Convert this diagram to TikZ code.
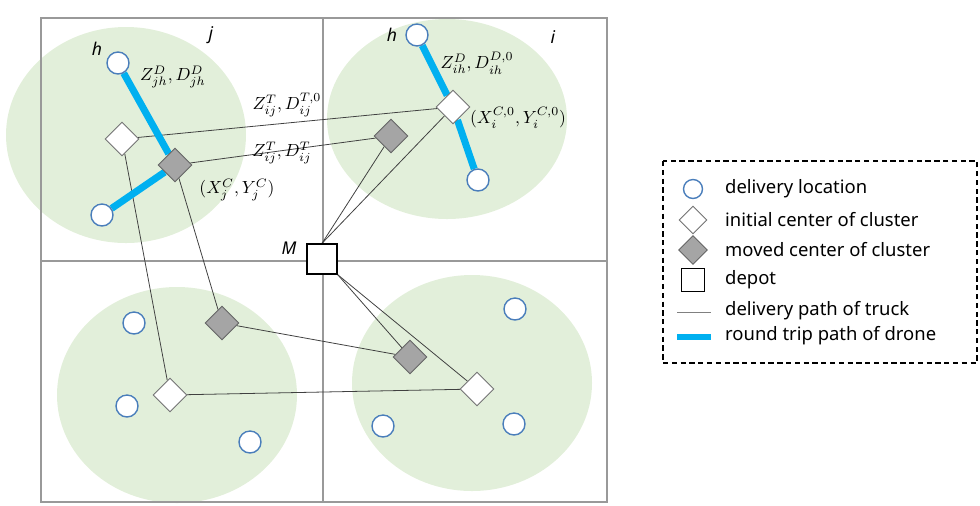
\documentclass[tikz,border=0pt]{standalone}
\usepackage{fontspec}
\setsansfont{Noto Sans}
\usetikzlibrary{positioning,shapes.geometric,backgrounds}
\definecolor{zonegreen}{HTML}{E2EFDA}
\definecolor{locblue}{HTML}{4A7EBB}
\definecolor{droneblue}{HTML}{00B0F0}
\definecolor{movedgray}{HTML}{A5A5A5}
\definecolor{gridgray}{HTML}{999999}

\begin{document}
\begin{tikzpicture}[x=0.02cm, y=-0.02cm,
    zone/.style={fill=zonegreen, draw=none},
    gridline/.style={draw=gridgray, line width=0.7pt},
    loc/.style={circle, draw=locblue, fill=white, line width=0.8pt, minimum size=0.44cm, inner sep=0pt},
    initc/.style={diamond, draw=black!55, fill=white, line width=0.5pt, minimum size=0.68cm, inner sep=0pt},
    movedc/.style={diamond, draw=black!60, fill=movedgray, line width=0.5pt, minimum size=0.68cm, inner sep=0pt},
    depot/.style={rectangle, draw=black, fill=white, line width=0.8pt, minimum size=0.6cm, inner sep=0pt},
    truck/.style={draw=black!75, line width=0.45pt},
    drone/.style={draw=droneblue, line width=4pt},
    varlbl/.style={font=\fontsize{10}{12}\selectfont},
    idlbl/.style={font=\sffamily\itshape\fontsize{10}{12}\selectfont},
    legtxt/.style={anchor=west, font=\sffamily\fontsize{10.5}{12}\selectfont},
]
\useasboundingbox (0,0) rectangle (980,505);

% clusters and frame
\begin{scope}[on background layer]
\fill[zone] (126,135) ellipse [x radius=120, y radius=108];
\fill[zone] (447,119) ellipse [x radius=120, y radius=100];
\fill[zone] (177,395) ellipse [x radius=120, y radius=108];
\fill[zone] (472,383) ellipse [x radius=120, y radius=108];
\draw[gridline] (41,18) rectangle (607,502);
\draw[gridline] (323,18) -- (323,502);
\draw[gridline] (41,261) -- (607,261);
\end{scope}

% cluster j
\node[loc] (tlh) at (118,63) {};
\node[loc] (tlb) at (102,215) {};
\node[initc] (tlI) at (122,139) {};
\node[movedc] (tlM) at (175,165) {};
% cluster i
\node[loc] (trh) at (417,35) {};
\node[loc] (trb) at (478,180) {};
\node[initc] (trI) at (453,107) {};
\node[movedc] (trM) at (391,136) {};
% lower clusters
\node[loc] (bla) at (134,323) {};
\node[loc] (blb) at (127,406) {};
\node[loc] (blc) at (250,442) {};
\node[initc] (blI) at (170,395) {};
\node[movedc] (blM) at (222,323) {};
\node[loc] (bra) at (515,309) {};
\node[loc] (brb) at (383,426) {};
\node[loc] (brc) at (514,424) {};
\node[initc] (brI) at (477,389) {};
\node[movedc] (brM) at (410,357) {};
\node[depot] (M) at (322,259) {};

% routes
\begin{scope}[on background layer]
\draw[truck] (tlI) -- (trI);
\draw[truck] (tlM) -- (trM);
\draw[truck] (tlI) -- (blI);
\draw[truck] (tlM) -- (blM);
\draw[truck] (blI) -- (brI);
\draw[truck] (blM) -- (brM);
\draw[truck] (M.north) -- (trI);
\draw[truck] (M.north) -- (trM);
\draw[truck] (M.south east) -- (brI);
\draw[truck] (M.south east) -- (brM);
\draw[drone] (tlh) -- (tlM) -- (tlb);
\draw[drone] (trh) -- (trI) -- (trb);
\end{scope}

% labels
\node[idlbl] (jlbl) at (211,35) {j};
\node[idlbl] (ilbl) at (553,37) {i};
\node[idlbl] (hlbl1) at (97,49) {h};
\node[idlbl] (hlbl2) at (392,35) {h};
\node[idlbl] (Mlbl) at (289,248) {M};
\node[varlbl] (zdj) at (173,77) {$Z^D_{jh},D^D_{jh}$};
\node[varlbl] (ztij0) at (287,105) {$Z^T_{ij},D^{T,0}_{ij}$};
\node[varlbl] (ztij) at (282,153) {$Z^T_{ij},D^T_{ij}$};
\node[varlbl] (xyj) at (237,190) {$(X^C_j,Y^C_j)$};
\node[varlbl] (zdi) at (477,63) {$Z^D_{ih},D^{D,0}_{ih}$};
\node[varlbl] (xyi) at (518,118) {$(X^{C,0}_i,Y^{C,0}_i)$};

% legend
\draw[dash pattern=on 3pt off 2pt, line width=0.6pt] (663,161) rectangle (977,363);
\node[loc, minimum size=0.38cm] (lgLoc) at (693,189) {};
\node[legtxt] (lgLocT) at (719,189) {delivery location};
\node[initc, minimum size=0.56cm] (lgI) at (693,220) {};
\node[legtxt] (lgIT) at (719,220) {initial center of cluster};
\node[movedc, minimum size=0.58cm] (lgM) at (693,250) {};
\node[legtxt] (lgMT) at (719,250) {moved center of cluster};
\node[depot, minimum size=0.46cm] (lgD) at (693,280) {};
\node[legtxt] (lgDT) at (719,280) {depot};
\coordinate (lgT1) at (677,312);
\coordinate (lgT2) at (711,312);
\draw[truck, draw=black!50] (lgT1) -- (lgT2);
\node[legtxt] (lgTT) at (719,311) {delivery path of truck};
\coordinate (lgR1) at (677,337);
\coordinate (lgR2) at (711,337);
\draw[drone, line width=3pt] (lgR1) -- (lgR2);
\node[legtxt] (lgRT) at (719,336) {round trip path of drone};
\end{tikzpicture}
\end{document}
